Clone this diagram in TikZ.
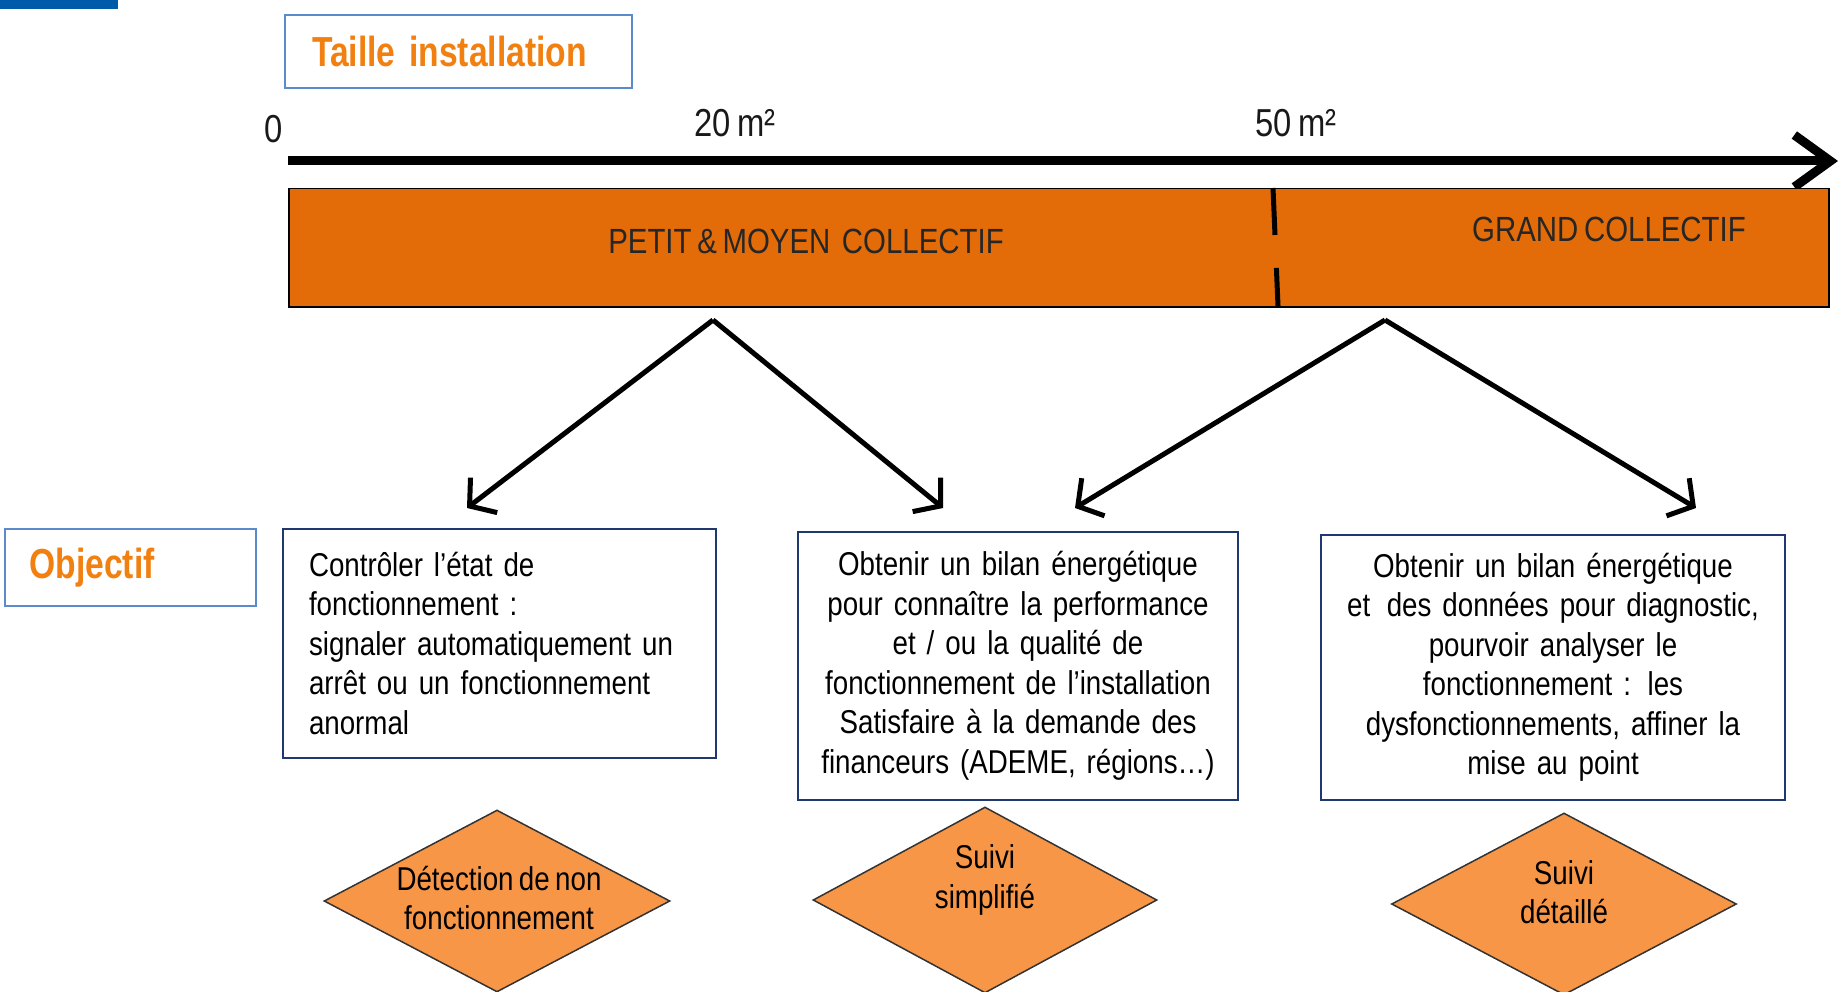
\documentclass[tikz,border=0pt]{standalone}
\usepackage{fontspec}
\usetikzlibrary{arrows.meta,shapes.geometric}
\setmainfont{Liberation Sans}
\newfontfamily\nar[FakeStretch=0.84,WordSpace=0.7]{Liberation Sans}
\newfontfamily\narb[FakeStretch=0.80,WordSpace=0.6]{Liberation Sans}
\definecolor{barorange}{HTML}{E36C09}
\definecolor{diaorange}{HTML}{F79646}
\definecolor{titleorange}{RGB}{242,128,16}
\definecolor{lblue}{RGB}{91,139,205}
\definecolor{navy}{RGB}{31,56,110}
\definecolor{topblue}{RGB}{0,90,170}
\tikzset{
  titlebox/.style={draw=lblue, line width=2pt, anchor=north west, align=left, inner ysep=0pt,
    font=\narb\fontsize{42}{46}\selectfont\bfseries, text=titleorange},
  objbox/.style={draw=navy, line width=2pt, anchor=north west, inner ysep=0pt,
    font=\nar\fontsize{33}{39.5}\selectfont},
  diabox/.style={diamond, draw=black!80, line width=1.5pt, fill=diaorange, inner sep=0pt},
  diatext/.style={align=center, font=\nar\fontsize{33}{39.5}\selectfont},
  bartext/.style={font=\nar\fontsize{35}{40}\selectfont, text=black!85},
  scaletext/.style={font=\nar\fontsize{39}{44}\selectfont, text=black!90},
  branch/.style={line width=5pt, -{Straight Barb[length=18pt,width=44pt,line width=5pt]}},
}
\begin{document}
\begin{tikzpicture}[x=1pt,y=-1pt]
\useasboundingbox (0,0) rectangle (1843,992);
% top-left blue bar
\fill[topblue] (0,0) rectangle (118,9);
% title boxes
\node[titlebox, minimum width=347pt, minimum height=73pt, inner xsep=27pt, text width=293pt] (taille) at (284,14) {Taille installation};
\node[titlebox, minimum width=251pt, minimum height=77pt, inner xsep=25pt, text width=201pt] (objectif) at (3.5,528) {Objectif};
% scale labels
\node[scaletext] (l0) at (274,129) {0};
\node[scaletext] (l20) at (735,123) {20 m²};
\node[scaletext] (l50) at (1296,123) {50 m²};
% axis
\coordinate (ax0) at (288,161);
\coordinate (ax1) at (1838,161);
\draw[line width=9pt, -{Straight Barb[length=36pt,width=52pt,line width=9pt]}] (ax0) -- (ax1);
% bar
\node[draw=black, line width=1.5pt, fill=barorange, anchor=north west, minimum width=1540pt, minimum height=118pt, inner sep=0pt] (bar) at (288,188) {};
\coordinate (divtop) at (1273,188);
\coordinate (divbot) at (1278,306);
\draw[line width=5pt, dash pattern=on 47pt off 33pt on 45pt] (divtop) -- (divbot);
\node[bartext] (petit) at (806,241) {PETIT \& MOYEN\, COLLECTIF};
\node[bartext] (grand) at (1609,229) {GRAND COLLECTIF};
% branch arrows
\coordinate (apexA) at (713,320);
\coordinate (endA1) at (467,508);
\coordinate (endA2) at (943,508);
\coordinate (apexB) at (1385,320);
\coordinate (endB1) at (1075,508);
\coordinate (endB2) at (1696,508);
\draw[branch] (apexA) -- (endA1);
\draw[branch] (apexA) -- (endA2);
\draw[branch] (apexB) -- (endB1);
\draw[branch] (apexB) -- (endB2);
% objective boxes
\node[objbox, align=left, minimum width=433pt, minimum height=229pt, inner xsep=26pt, text width=381pt] (box1) at (282,528)
  {Contrôler l’état de\\fonctionnement :\\signaler automatiquement un\\arrêt ou un fonctionnement\\anormal};
\node[objbox, align=center, minimum width=440pt, minimum height=268pt, inner xsep=10pt, text width=420pt] (box2) at (797,531)
  {Obtenir un bilan énergétique\\pour connaître la performance\\et / ou la qualité de\\fonctionnement de l’installation\\Satisfaire à la demande des\\financeurs (ADEME, régions…)};
\node[objbox, align=center, minimum width=464pt, minimum height=265pt, inner xsep=10pt, text width=444pt] (box3) at (1320,534)
  {Obtenir un bilan énergétique\\et\, des données pour diagnostic,\\pourvoir analyser le\\fonctionnement : les\\dysfonctionnements, affiner la\\mise au point};
% diamonds
\node[diabox, minimum width=346pt, minimum height=182pt] (d1) at (497,901) {};
\node[diabox, minimum width=344pt, minimum height=186pt] (d2) at (985,900) {};
\node[diabox, minimum width=345pt, minimum height=182pt] (d3) at (1564,904) {};
\node[diatext] (t1) at (499,898) {Détection de non\\fonctionnement};
\node[diatext] (t2) at (985,880) {Suivi\\simplifié};
\node[diatext] (t3) at (1564,892) {Suivi\\détaillé};
\end{tikzpicture}
\end{document}
